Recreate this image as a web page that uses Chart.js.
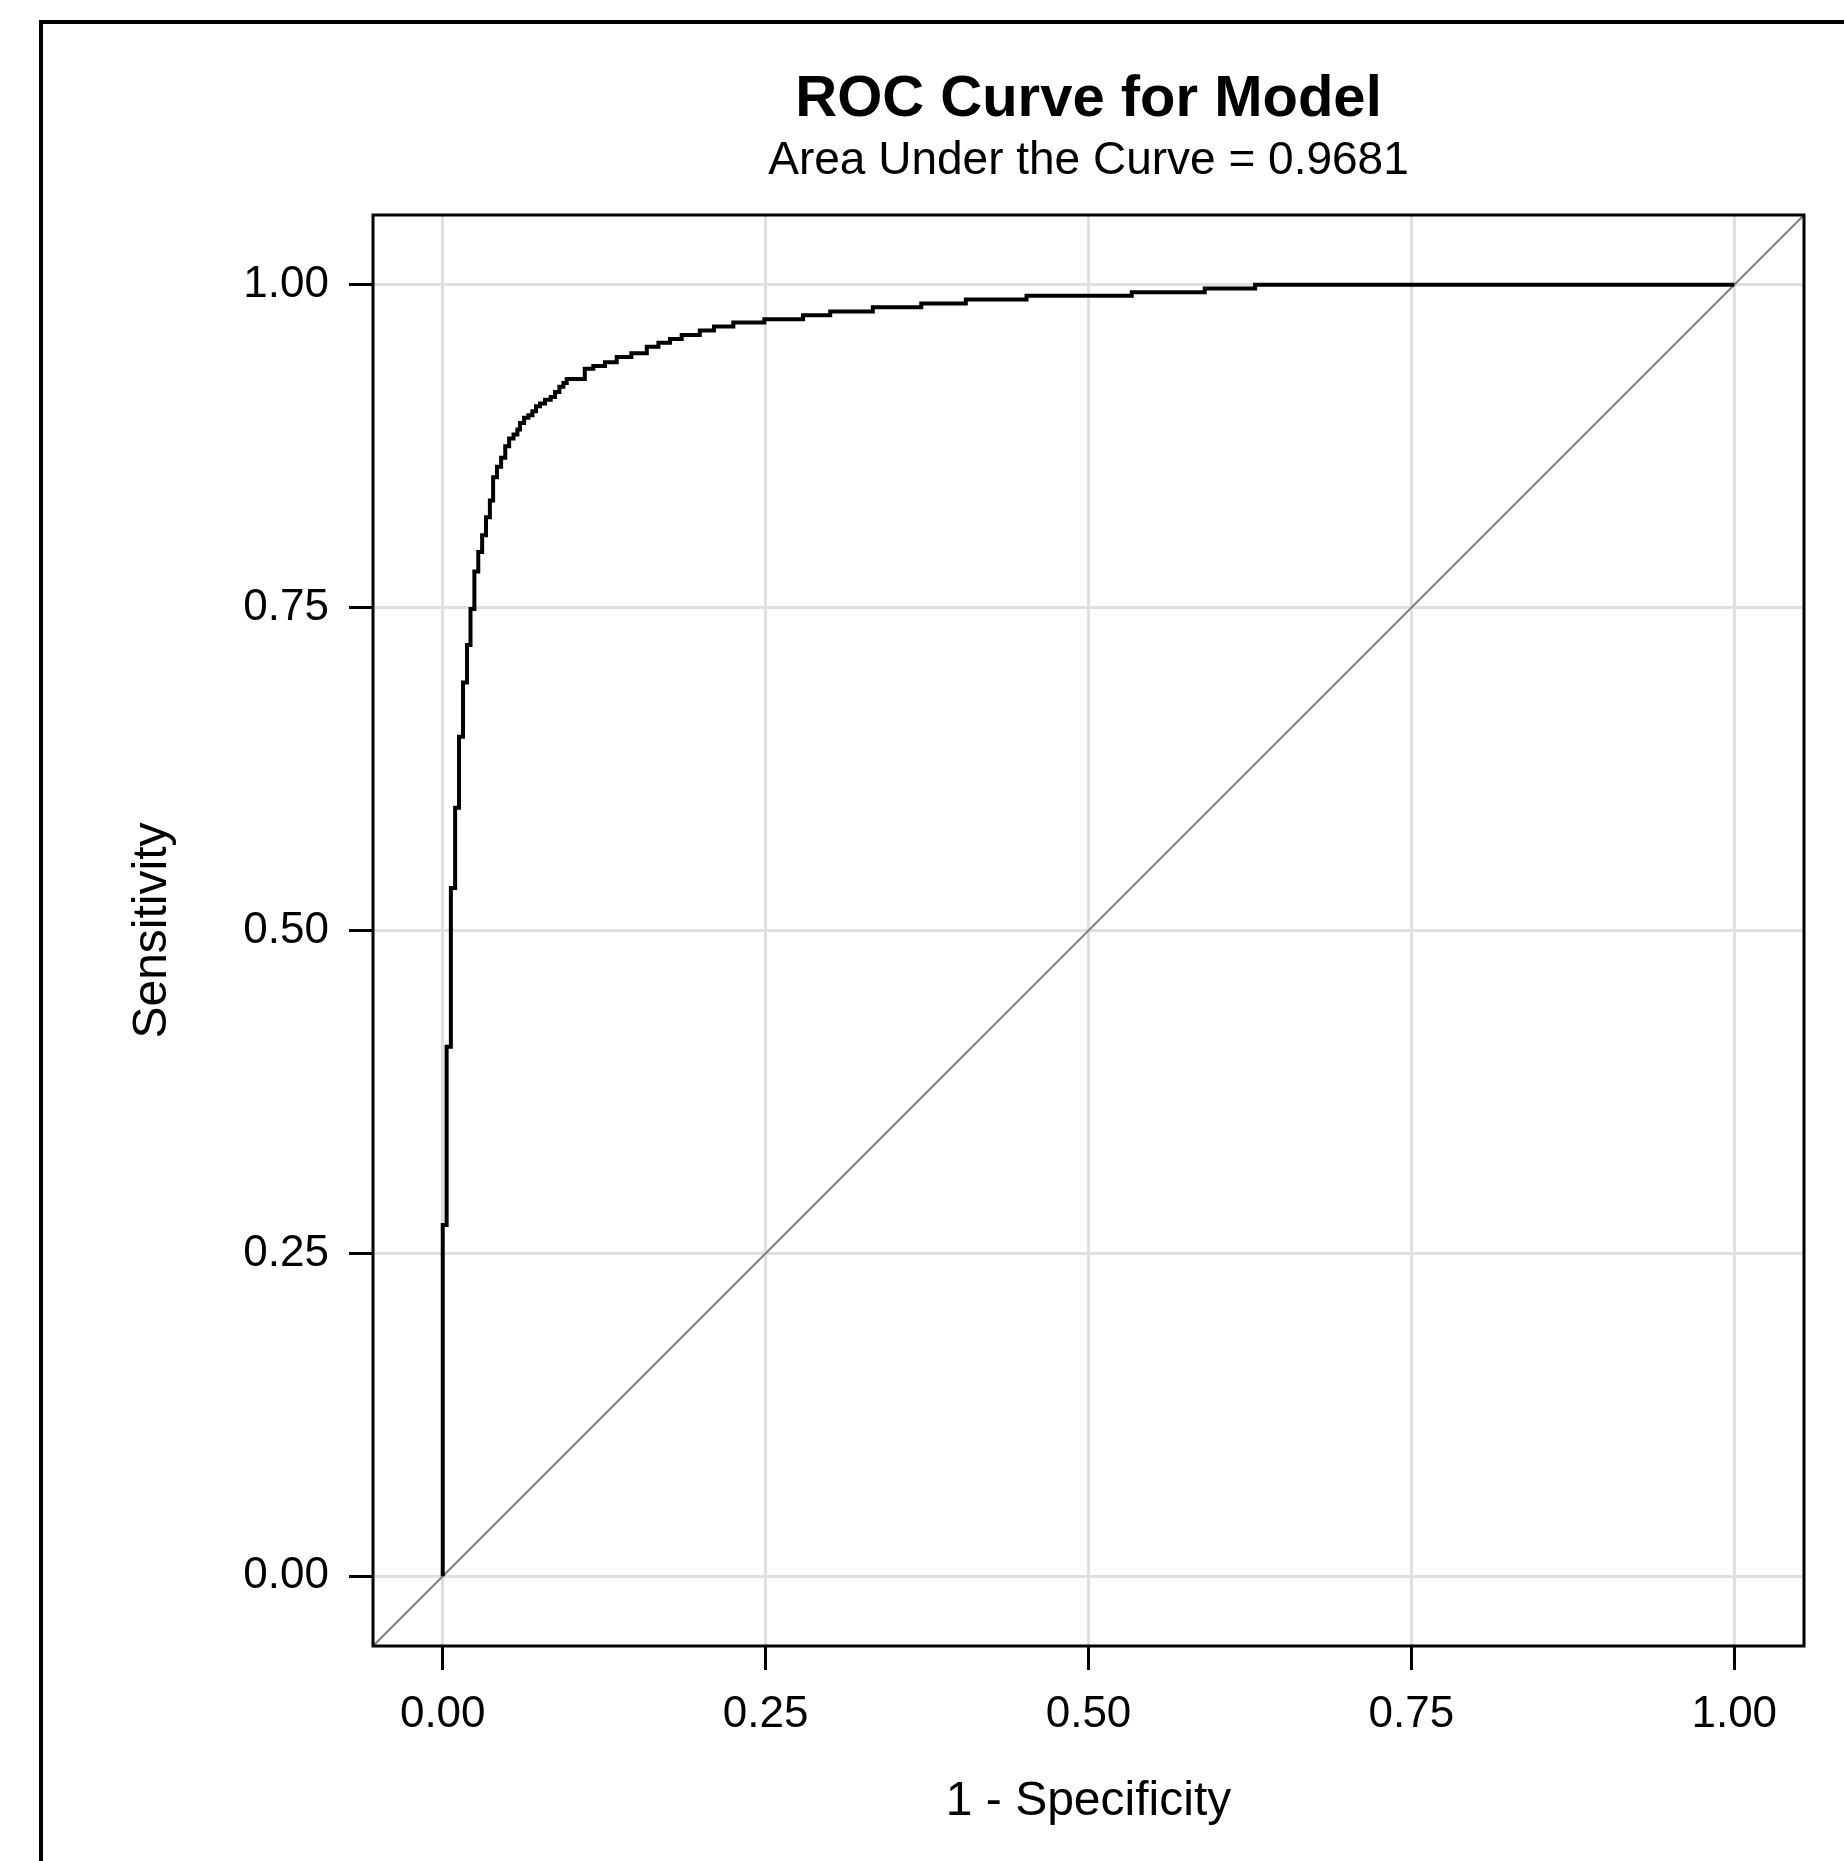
<!DOCTYPE html>
<html>
<head>
<meta charset="utf-8">
<script src="https://cdn.jsdelivr.net/npm/chart.js@4.4.0/dist/chart.umd.min.js"></script>
<style>
  html, body { margin: 0; padding: 0; background: #fff; }
  #wrap { width: 1844px; height: 1861px; position: relative; }
</style>
</head>
<body>
<div id="wrap"><canvas id="roc"></canvas></div>
<script>
// ROC points (1 - specificity, sensitivity)
const fpr = [0, 0, 0.003, 0.0063, 0.0096, 0.0126, 0.0157, 0.0188, 0.0215, 0.0245,
    0.0275, 0.0305, 0.0335, 0.0365, 0.039, 0.042, 0.0452, 0.0484, 0.0514, 0.0548,
    0.0578, 0.0598, 0.063, 0.0663, 0.0694, 0.0722, 0.0753, 0.0792, 0.0836, 0.0869,
    0.0903, 0.0934, 0.096, 0.110, 0.1166, 0.1256, 0.1347, 0.146, 0.158, 0.167,
    0.176, 0.185, 0.199, 0.210, 0.225, 0.249, 0.279, 0.300, 0.333, 0.3705,
    0.405, 0.452, 0.5335, 0.590, 0.629, 1.0];
const tpr = [0, 0.272, 0.41, 0.533, 0.595, 0.650, 0.692, 0.721, 0.749, 0.778,
    0.793, 0.806, 0.820, 0.833, 0.851, 0.859, 0.866, 0.875, 0.881, 0.884,
    0.888, 0.893, 0.897, 0.899, 0.902, 0.906, 0.908, 0.911, 0.913, 0.917,
    0.921, 0.924, 0.927, 0.935, 0.937, 0.940, 0.944, 0.947, 0.952, 0.955,
    0.958, 0.961, 0.9645, 0.9676, 0.9707, 0.9733, 0.9764, 0.9792, 0.9826, 0.9854,
    0.9885, 0.9914, 0.9942, 0.9970, 1.0, 1.0];
const axisMin = -0.054, axisMax = 1.054;
const refLine = [axisMin, axisMax];
const tickVals = [0, 0.25, 0.5, 0.75, 1];

const FONT = "'Liberation Sans', Arial, sans-serif";

const framePlugin = {
    id: 'frame',
    beforeDraw(chart) {
        const { ctx, width, height } = chart;
        ctx.save();
        ctx.fillStyle = '#fff';
        ctx.fillRect(0, 0, width, height);
        // outer graph border (runs off the right and bottom edges)
        ctx.strokeStyle = '#000';
        ctx.lineWidth = 4;
        ctx.beginPath();
        ctx.moveTo(41, height + 10);
        ctx.lineTo(41, 22);
        ctx.lineTo(width + 10, 22);
        ctx.stroke();
        ctx.restore();
    },
    afterDatasetsDraw(chart) {
        const { ctx, chartArea: a } = chart;
        ctx.save();
        ctx.strokeStyle = '#000';
        ctx.lineWidth = 3;
        ctx.strokeRect(a.left, a.top, a.right - a.left, a.bottom - a.top);
        ctx.restore();
    }
};

const axisCommon = {
    type: 'linear',
    min: axisMin,
    max: axisMax,
    afterBuildTicks: s => { s.ticks = tickVals.map(v => ({ value: v })); },
    border: { display: false },
    grid: { color: '#e0e0e0', lineWidth: 3, tickColor: '#000', tickWidth: 3, tickLength: 24 }
};

new Chart(document.getElementById('roc'), {
    type: 'scatter',
    data: {
        datasets: [
            {
                label: 'ROC',
                data: fpr.map((x, i) => ({ x, y: tpr[i] })),
                showLine: true,
                stepped: 'before',
                borderColor: '#000',
                borderWidth: 4,
                pointRadius: 0,
                fill: false
            },
            {
                label: 'Reference',
                data: refLine.map(v => ({ x: v, y: v })),
                showLine: true,
                borderColor: '#808080',
                borderWidth: 2,
                pointRadius: 0,
                fill: false
            }
        ]
    },
    options: {
        responsive: true,
        maintainAspectRatio: false,
        animation: false,
        layout: { padding: { top: 0, right: 40, bottom: 0, left: 0 } },
        plugins: {
            legend: { display: false },
            tooltip: { enabled: false },
            title: {
                display: true,
                fullSize: false,
                text: 'ROC Curve for Model',
                color: '#000',
                font: { family: FONT, size: 58, weight: 'bold', lineHeight: 1 },
                padding: { top: 71, bottom: 0 }
            },
            subtitle: {
                display: true,
                fullSize: false,
                text: 'Area Under the Curve = 0.9681',
                color: '#000',
                font: { family: FONT, size: 46, lineHeight: 1 },
                padding: { top: 9, bottom: 31 }
            }
        },
        scales: {
            x: {
                ...axisCommon,
                position: 'bottom',
                afterFit: s => { s.height = 215; },
                ticks: { color: '#000', padding: 18, font: { family: FONT, size: 44 }, callback: v => v.toFixed(2), maxRotation: 0 },
                title: { display: true, text: '1 - Specificity', color: '#000', font: { family: FONT, size: 48 }, padding: { top: 0, bottom: 30 } }
            },
            y: {
                ...axisCommon,
                position: 'left',
                afterFit: s => { s.width = 373; },
                ticks: { color: '#000', padding: 20, font: { family: FONT, size: 44 }, callback: v => v.toFixed(2) },
                title: { display: true, text: 'Sensitivity', color: '#000', font: { family: FONT, size: 48 }, padding: { top: 124, bottom: 0 } }
            }
        }
    },
    plugins: [framePlugin]
});
</script>
</body>
</html>
